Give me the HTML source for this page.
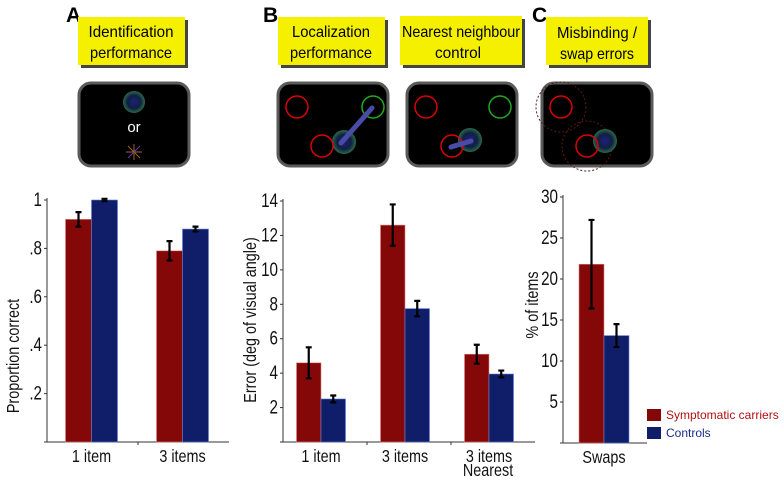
<!DOCTYPE html>
<html><head><meta charset="utf-8"><style>
body{margin:0;background:#fff;width:784px;height:484px;overflow:hidden}
svg text{font-family:"Liberation Sans",sans-serif}
</style></head><body>
<svg id="fig" width="784" height="484" viewBox="0 0 784 484" xmlns="http://www.w3.org/2000/svg">
<defs>
<radialGradient id="stim"><stop offset="0" stop-color="#202080"/><stop offset="0.6" stop-color="#102040"/><stop offset="1" stop-color="#2a6a4a"/></radialGradient>
</defs>
<g font-size="21" font-weight="bold">
<text x="66" y="22">A</text>
<text x="263" y="22">B</text>
<text x="532" y="22">C</text>
</g>
<g font-size="16" text-anchor="middle" lengthAdjust="spacingAndGlyphs">
<rect x="81" y="20" width="107" height="48" fill="#444"/><rect x="78" y="17" width="107" height="48" fill="#f4f000"/>
<text x="131" y="37" textLength="85" lengthAdjust="spacingAndGlyphs">Identification</text><text x="131" y="58" textLength="82" lengthAdjust="spacingAndGlyphs">performance</text>
<rect x="281" y="20" width="107" height="48" fill="#444"/><rect x="278" y="17" width="107" height="48" fill="#f4f000"/>
<text x="331" y="37" textLength="78" lengthAdjust="spacingAndGlyphs">Localization</text><text x="331" y="58" textLength="82" lengthAdjust="spacingAndGlyphs">performance</text>
<rect x="403" y="19" width="122" height="49" fill="#444"/><rect x="400" y="16" width="122" height="49" fill="#f4f000"/>
<text x="461" y="37" textLength="118" lengthAdjust="spacingAndGlyphs">Nearest neighbour</text><text x="458" y="58" textLength="46" lengthAdjust="spacingAndGlyphs">control</text>
<rect x="549" y="20" width="102" height="48" fill="#444"/><rect x="546" y="17" width="102" height="48" fill="#f4f000"/>
<text x="597" y="38" textLength="80" lengthAdjust="spacingAndGlyphs">Misbinding /</text><text x="597" y="59" textLength="74" lengthAdjust="spacingAndGlyphs">swap errors</text>
</g>
<g>
<rect x="79" y="83" width="110" height="83" rx="12" fill="#000" stroke="#5a5a5a" stroke-width="3"/>
<circle cx="134" cy="102" r="11" fill="url(#stim)"/>
<text x="134" y="132" fill="#fff" font-size="15" text-anchor="middle">or</text>
<g stroke="#a06030" stroke-width="1"><line x1="126" y1="152" x2="142" y2="152"/><line x1="134" y1="144" x2="134" y2="160"/><line x1="128" y1="146" x2="140" y2="158"/><line x1="140" y1="146" x2="128" y2="158" stroke="#6040a0"/></g>
<rect x="278" y="83" width="110" height="83" rx="12" fill="#000" stroke="#5a5a5a" stroke-width="3"/>
<circle cx="297" cy="107" r="11" fill="none" stroke="#d00" stroke-width="1.5"/><circle cx="373" cy="107" r="11" fill="none" stroke="#2a2" stroke-width="1.5"/>
<circle cx="344" cy="142" r="12" fill="url(#stim)"/><circle cx="322" cy="146" r="11" fill="none" stroke="#d00" stroke-width="1.5"/>
<line x1="372" y1="108" x2="341" y2="143" stroke="#4a4aa8" stroke-width="5" stroke-linecap="round"/>
<rect x="407" y="83" width="110" height="83" rx="12" fill="#000" stroke="#5a5a5a" stroke-width="3"/>
<circle cx="426" cy="107" r="11" fill="none" stroke="#d00" stroke-width="1.5"/><circle cx="500" cy="107" r="11" fill="none" stroke="#2a2" stroke-width="1.5"/>
<circle cx="470" cy="140" r="12" fill="url(#stim)"/><circle cx="452" cy="146" r="11" fill="none" stroke="#d00" stroke-width="1.5"/>
<line x1="451" y1="147" x2="471" y2="141" stroke="#4a4aa8" stroke-width="5" stroke-linecap="round"/>
<rect x="542" y="83" width="110" height="83" rx="12" fill="#000" stroke="#5a5a5a" stroke-width="3"/>
<circle cx="561" cy="107" r="25" fill="none" stroke="#5a1a1a" stroke-dasharray="2 2"/><circle cx="587" cy="146" r="25" fill="none" stroke="#5a1a1a" stroke-dasharray="2 2"/>
<circle cx="605" cy="141" r="12" fill="url(#stim)"/>
<circle cx="561" cy="107" r="11" fill="none" stroke="#d00" stroke-width="1.5"/><circle cx="587" cy="146" r="11" fill="none" stroke="#d00" stroke-width="1.5"/>
</g>
<g id="charts"></g>
<g font-size="12">
<rect x="647" y="409" width="14" height="12" fill="#850808"/>
<text x="666" y="419" fill="#b01010">Symptomatic carriers</text>
<rect x="647" y="427" width="14" height="12" fill="#101e6a"/>
<text x="666" y="437" fill="#1a2a90">Controls</text>
</g>
</svg>
<script>
// Panel A
const aCats = ["1 item", "3 items"];
const aCarriers = [0.92, 0.79];
const aCarriersErr = [0.03, 0.04];
const aControls = [1.0, 0.88];
const aControlsErr = [0.005, 0.01];
const aTicks = [0.2, 0.4, 0.6, 0.8, 1];
const aTickLabels = [".2", ".4", ".6", ".8", "1"];
// Panel B
const bCats = ["1 item", "3 items", "3 items"];
const bCarriers = [4.6, 12.6, 5.1];
const bCarriersErr = [0.9, 1.2, 0.55];
const bControls = [2.5, 7.75, 3.95];
const bControlsErr = [0.2, 0.45, 0.2];
const bTicks = [2, 4, 6, 8, 10, 12, 14];
// Panel C
const cCats = ["Swaps"];
const cCarriers = [21.8];
const cCarriersErr = [5.4];
const cControls = [13.1];
const cControlsErr = [1.4];
const cTicks = [5, 10, 15, 20, 25, 30];

const NS = "http://www.w3.org/2000/svg";
const root = document.getElementById("charts");
const SX = 0.8;
function mk(tag, attrs, parent) {
  const e = document.createElementNS(NS, tag);
  for (const k in attrs) e.setAttribute(k, attrs[k]);
  (parent || root).appendChild(e);
  return e;
}
function txt(x, y, s, size, anchor, parent, rot) {
  const t = mk("text", {transform: `translate(${x},${y})${rot ? " rotate(-90)" : ""} scale(${SX},1)`, "text-anchor": anchor, "font-size": size, fill: "#111"}, parent);
  t.textContent = s;
  return t;
}
function panel(cfg) {
  const g = mk("g", {});
  
  
  const y = v => cfg.y0 - (v / cfg.max) * (cfg.y0 - cfg.yTop);
  const xEnd = cfg.ax + cfg.groupW * cfg.cats.length;
  mk("line", {x1: cfg.ax, y1: cfg.yTop - 2, x2: cfg.ax, y2: cfg.y0, stroke: "#333", "stroke-width": 1}, g);
  mk("line", {x1: cfg.ax - 3, y1: cfg.y0, x2: xEnd, y2: cfg.y0, stroke: "#333", "stroke-width": 1}, g);
  cfg.ticks.forEach((t, i) => {
    mk("line", {x1: cfg.ax - 3, y1: y(t), x2: cfg.ax, y2: y(t), stroke: "#333"}, g);
    const tx = txt(cfg.ax - 5, y(t) + 6, cfg.tickLabels ? cfg.tickLabels[i] : String(t), 19, "end", g);
    
    
  });
  for (let i = 1; i < cfg.cats.length; i++) {
    mk("line", {x1: cfg.ax + cfg.groupW * i, y1: cfg.y0, x2: cfg.ax + cfg.groupW * i, y2: cfg.y0 + 3, stroke: "#333"}, g);
  }
  cfg.cats.forEach((c, i) => {
    const cx = cfg.ax + cfg.groupW * (i + 0.5) + cfg.off;
    const series = [[cfg.car, cfg.carE, "#850808", "#e08080", cx - cfg.bw], [cfg.con, cfg.conE, "#101e6a", "#6080d0", cx]];
    series.forEach(([vals, errs, fill, edge, x], s) => {
      const r = mk("rect", {x: x, y: y(vals[i]), width: cfg.bw, height: cfg.y0 - y(vals[i]), fill: fill, stroke: edge, "stroke-width": 0.6}, g);
      
      
      const mx = x + cfg.bw / 2, hi = y(vals[i] + errs[i]), lo = y(vals[i] - errs[i]);
      const e = mk("path", {d: `M${mx},${hi}V${lo}M${mx-3},${hi}H${mx+3}M${mx-3},${lo}H${mx+3}`, stroke: "#000", "stroke-width": 2.2, fill: "none"}, g);
      
      
    });
    const lt = txt(cx, cfg.y0 + 20, c, 18, "middle", g);
    
    
  });
  const yt = txt(cfg.titleX, cfg.titleY, cfg.title, 18, "middle", g, true);
  
  
  return g;
}
panel({name: "chart-identification", ax: 47, y0: 442, yTop: 200, max: 1, groupW: 91, off: -1, bw: 26,
  cats: aCats, car: aCarriers, carE: aCarriersErr, con: aControls, conE: aControlsErr,
  ticks: aTicks, tickLabels: aTickLabels, title: "Proportion correct", titleX: 19, titleY: 356});
panel({name: "chart-localization", ax: 283, y0: 442, yTop: 201, max: 14, groupW: 84, off: -4, bw: 24.5,
  cats: bCats, car: bCarriers, carE: bCarriersErr, con: bControls, conE: bControlsErr,
  ticks: bTicks, title: "Error (deg of visual angle)", titleX: 256, titleY: 320});
panel({name: "chart-swaps", ax: 563, y0: 443, yTop: 197, max: 30, groupW: 84, off: -1, bw: 25,
  cats: cCats, car: cCarriers, carE: cCarriersErr, con: cControls, conE: cControlsErr,
  ticks: cTicks, title: "% of items", titleX: 538, titleY: 305});
const nr = txt(488, 476, "Nearest", 18, "middle");


</script>
</body></html>
